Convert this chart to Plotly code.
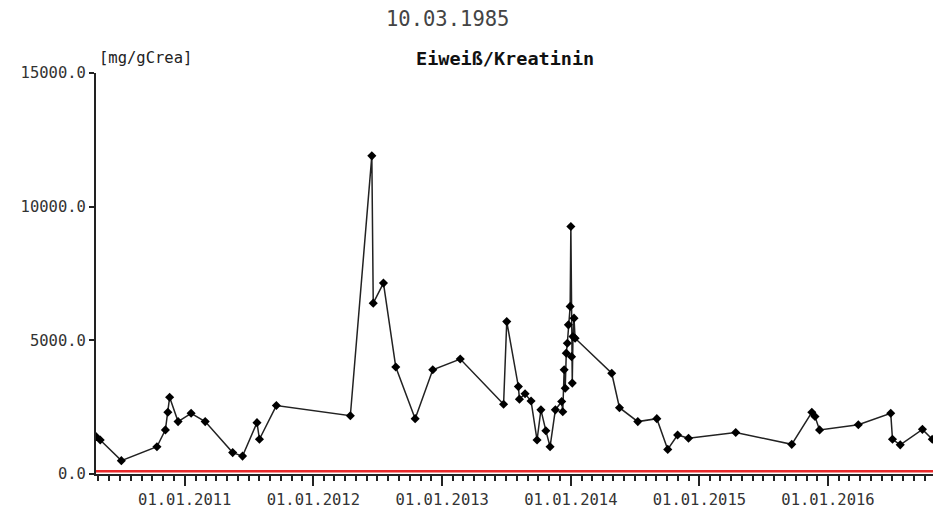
import plotly.graph_objects as go

dates = [
    "2010-04-24", "2010-05-06", "2010-07-05", "2010-10-14", "2010-11-07", "2010-11-14",
    "2010-11-19", "2010-12-13", "2011-01-19", "2011-02-28", "2011-05-17", "2011-06-14",
    "2011-07-25", "2011-08-01", "2011-09-18", "2012-04-15", "2012-06-15", "2012-06-19",
    "2012-07-18", "2012-08-22", "2012-10-16", "2012-12-05", "2013-02-21", "2013-06-24",
    "2013-07-03", "2013-08-05", "2013-08-08", "2013-08-24", "2013-09-10", "2013-09-27",
    "2013-10-08", "2013-10-22", "2013-11-03", "2013-11-18", "2013-12-06", "2013-12-09",
    "2013-12-13", "2013-12-16", "2013-12-19", "2013-12-22", "2013-12-25", "2013-12-30",
    "2014-01-01", "2014-01-03", "2014-01-05", "2014-01-07", "2014-01-10", "2014-01-13",
    "2014-04-27", "2014-05-19", "2014-07-10", "2014-09-02", "2014-10-03", "2014-10-31",
    "2014-12-01", "2015-04-14", "2015-09-20", "2015-11-16", "2015-11-25", "2015-12-08",
    "2016-03-27", "2016-06-27", "2016-07-02", "2016-07-24", "2016-09-25", "2016-10-23",
]
values = [
    1400, 1270, 500, 1020, 1650, 2310,
    2870, 1960, 2270, 1960, 800, 670,
    1920, 1300, 2560, 2180, 11900, 6390,
    7140, 4000, 2070, 3900, 4300, 2610,
    5700, 3270, 2800, 3000, 2730, 1270,
    2400, 1620, 1020, 2400, 2710, 2330,
    3900, 3210, 4520, 4890, 5580, 6270,
    9260, 4390, 3400, 5140, 5830, 5080,
    3770, 2480, 1960, 2070, 920, 1460,
    1340, 1550, 1110, 2310, 2150, 1650,
    1840, 2270, 1300, 1090, 1670, 1300,
]
y_ticks = [0, 5000, 10000, 15000]
y_tick_labels = ["0.0", "5000.0", "10000.0", "15000.0"]
x_range = ["2010-04-24", "2016-10-25"]
reference_value = 100
title_text = "10.03.1985"
chart_name = "Eiweiß/Kreatinin"
unit_text = "[mg/gCrea]"

mono = "DejaVu Sans Mono"
W, H = 940, 509
ML, MR, MT, MB = 96, 7, 73, 35

fig = go.Figure()
fig.add_trace(go.Scatter(
    x=x_range, y=[reference_value, reference_value], mode="lines",
    line=dict(color="#e8292b", width=2.5), hoverinfo="skip", showlegend=False,
))
fig.add_trace(go.Scatter(
    x=dates, y=values, mode="lines+markers",
    line=dict(color="#222222", width=1.5),
    marker=dict(symbol="diamond", size=7, color="#000000"),
    showlegend=False,
))

pw = W - ML - MR
ph = H - MT - MB
def px_to_paper(px, py):
    return (px - ML) / pw, (H - MB - py) / ph

tx, ty = px_to_paper(447, 19)
nx, ny = px_to_paper(505, 59)
ux, uy = px_to_paper(97, 58)

fig.update_layout(
    width=W, height=H,
    margin=dict(l=ML, r=MR, t=MT, b=MB, autoexpand=False),
    paper_bgcolor="white", plot_bgcolor="white",
    font=dict(family=mono, size=15, color="#333333"),
    xaxis=dict(
        type="date", range=x_range, automargin=False,
        tickformat="%d.%m.%Y", dtick="M12", tick0="2011-01-01",
        ticks="outside", ticklen=10, tickwidth=2, tickcolor="#222222",
        minor=dict(dtick="M1", ticks="outside", ticklen=5, tickwidth=2, tickcolor="#222222"),
        showline=True, linecolor="#222222", linewidth=2,
        showgrid=False, zeroline=False,
        tickfont=dict(family=mono, size=15.5, color="#333333"),
    ),
    yaxis=dict(
        range=[0, 15000], tickvals=y_ticks, ticktext=y_tick_labels, automargin=False,
        ticks="outside", ticklen=5, tickwidth=2, tickcolor="#222222",
        showline=True, linecolor="#222222", linewidth=2,
        showgrid=False, zeroline=False,
        tickfont=dict(family=mono, size=15.5, color="#333333"),
    ),
    annotations=[
        dict(text=title_text, x=tx, y=ty, xref="paper", yref="paper", showarrow=False,
             xanchor="center", yanchor="middle",
             font=dict(family=mono, size=20.5, color="#444444")),
        dict(text="<b>" + chart_name + "</b>", x=nx, y=ny, xref="paper", yref="paper",
             showarrow=False, xanchor="center", yanchor="middle",
             font=dict(family=mono, size=18.5, color="#111111")),
        dict(text=unit_text, x=ux, y=uy, xref="paper", yref="paper", showarrow=False,
             xanchor="left", yanchor="middle",
             font=dict(family=mono, size=15.5, color="#222222")),
    ],
)

fig.write_html(
    "out.html",
    config={"displayModeBar": False},
    post_script="document.body.style.margin='0';document.body.style.overflow='hidden';",
)
